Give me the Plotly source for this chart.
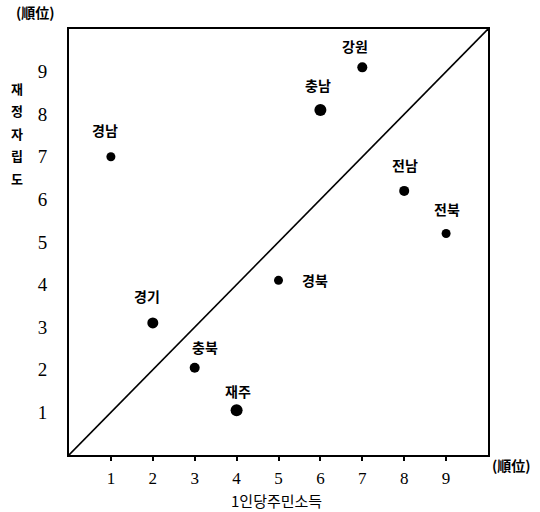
import plotly.graph_objects as go

regions = ["경남", "경기", "충북", "재주", "경북", "충남", "강원", "전남", "전북"]
income_rank = [1, 2, 3, 4, 5, 6, 7, 8, 9]
fiscal_rank = [7.0, 3.1, 2.05, 1.05, 4.1, 8.1, 9.1, 6.2, 5.2]
tick_vals = [1, 2, 3, 4, 5, 6, 7, 8, 9]
tick_text = ["1", "2", "3", "4", "5", "6", "7", "8", "9"]
y_title = "재정자립도"
x_title = "1인당주민소득"
unit_label = "(順位)"

# label offsets (pixels) — styling only
label_dx = [-6, -6, 10, 1, 36, -2, -7, 1, 1]
label_dy = [-27, -27, -21, -19, 0, -25, -21, -26, -24]
marker_sizes = [9, 11, 10, 12, 9, 12, 10, 10, 9]

fig = go.Figure()
fig.add_trace(go.Scatter(x=[0, 10], y=[0, 10], mode="lines",
                         line=dict(color="black", width=1.6), hoverinfo="skip"))
fig.add_trace(go.Scatter(x=income_rank, y=fiscal_rank, mode="markers",
                         marker=dict(color="#000000", size=marker_sizes, opacity=1,
                                     line=dict(width=0))))

for i, name in enumerate(regions):
    fig.add_annotation(x=income_rank[i], y=fiscal_rank[i], text="<b>" + name + "</b>",
                       showarrow=False, xshift=label_dx[i], yshift=-label_dy[i],
                       xanchor="center", yanchor="middle",
                       font=dict(family="Noto Sans CJK KR", size=14, color="black"))

axis_common = dict(range=[0, 10], showgrid=False, zeroline=False,
                   showline=True, linecolor="black", linewidth=2, mirror=True,
                   tickvals=tick_vals, ticktext=tick_text, automargin=False)

fig.update_layout(
    width=540, height=512,
    margin=dict(l=69, r=52, t=29, b=57),
    paper_bgcolor="white", plot_bgcolor="white",
    showlegend=False,
    xaxis=dict(**axis_common, ticks="outside", ticklen=4, tickcolor="black",
               tickwidth=1.5, ticklabelstandoff=3,
               tickfont=dict(family="Liberation Serif", size=17, color="black")),
    yaxis=dict(**axis_common, ticks="", ticklabelstandoff=16,
               tickfont=dict(family="Liberation Serif", size=19, color="black")),
)

lbl_font = dict(family="Noto Sans CJK KR", size=14, color="black")
fig.add_annotation(xref="paper", yref="paper", x=-0.081, y=1.0, yshift=17,
                   xanchor="center", yanchor="middle",
                   text="<b>" + unit_label + "</b>", showarrow=False, font=lbl_font)
fig.add_annotation(xref="paper", yref="paper", x=1.0, xshift=2, y=0, yshift=-10,
                   xanchor="left", yanchor="middle",
                   text="<b>" + unit_label + "</b>", showarrow=False, font=lbl_font)
for k, ch in enumerate(y_title):
    fig.add_annotation(xref="paper", yref="paper", x=-0.124, y=1.0,
                       yshift=-(59 + 22.5 * k), xanchor="center", yanchor="middle",
                       text="<b>" + ch + "</b>", showarrow=False,
                       font=dict(family="Noto Sans CJK KR", size=13, color="black"))
fig.add_annotation(xref="paper", yref="paper", x=0.495, y=0, yshift=-45,
                   xanchor="center", yanchor="middle",
                   text=x_title, showarrow=False,
                   font=dict(family="Noto Sans CJK KR", size=15, color="black"))

fig.write_html("out.html", post_script="document.body.style.margin='0';",
               config={"displayModeBar": False})
